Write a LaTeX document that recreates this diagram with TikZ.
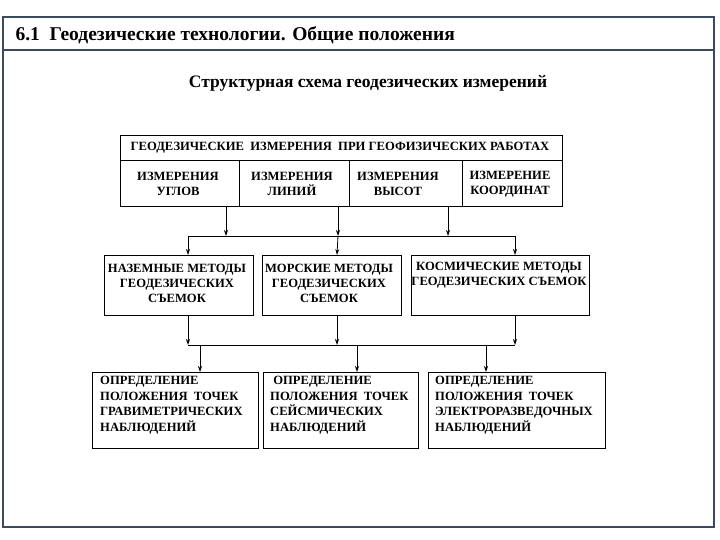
\documentclass[tikz,border=0pt]{standalone}
\usepackage{fontspec}
\setmainfont{Liberation Serif}
\usetikzlibrary{arrows.meta}
\definecolor{frame}{HTML}{3B4A5C}
\begin{document}
\begin{tikzpicture}[x=1pt,y=-1pt,
  box/.style={draw,line width=0.8pt},
  t/.style={font=\bfseries\fontsize{12.6}{15.5}\selectfont,align=left,inner sep=0pt},
  tc/.style={font=\bfseries\fontsize{12.6}{15}\selectfont,align=center,inner sep=0pt},
  arr/.style={line width=0.8pt,-{Stealth[length=6pt,width=4pt]}},
  ln/.style={line width=0.8pt}]
\useasboundingbox (0,0) rectangle (720,540);
\fill[white] (0,0) rectangle (720,540);
\draw[frame,line width=1.5pt] (3,17) rectangle (714,527);
\draw[frame,line width=1.5pt] (3,50) -- (714,50);
\node[anchor=west,font=\bfseries\fontsize{19.5}{22}\selectfont] (title) at (12,35) {6.1\ \ Геодезические технологии. Общие положения};
\node[font=\bfseries\fontsize{17.5}{20}\selectfont] (sub) at (368,83) {Структурная схема геодезических измерений};
% top box
\draw[box] (120,135) rectangle (562,206);
\draw[ln] (120,160) -- (562,160);
\draw[ln] (239,160) -- (239,206) (349,160) -- (349,206) (462,160) -- (462,206);
\node[tc] (top) at (340,148) {ГЕОДЕЗИЧЕСКИЕ \ ИЗМЕРЕНИЯ \ ПРИ ГЕОФИЗИЧЕСКИХ РАБОТАХ};
\node[tc] (u1) at (178,184) {ИЗМЕРЕНИЯ\\УГЛОВ};
\node[tc] (u2) at (292,184) {ИЗМЕРЕНИЯ\\ЛИНИЙ};
\node[tc] (u3) at (398,184) {ИЗМЕРЕНИЯ\\ВЫСОТ};
\node[tc] (u4) at (510,184) {ИЗМЕРЕНИЕ\\КООРДИНАТ};
\coordinate (a1) at (226,206); \coordinate (a2) at (338,206); \coordinate (a3) at (448,206);
\coordinate (b1) at (226,236); \coordinate (b2) at (338,236); \coordinate (b3) at (448,236);
\draw[arr] (a1) -- (b1); \draw[arr] (a2) -- (b2); \draw[arr] (a3) -- (b3);
\coordinate (hL) at (188,236); \coordinate (hR) at (515,236);
\draw[ln] (hL) -- (hR);
% middle boxes
\draw[box] (104,255) rectangle (253,315);
\draw[box] (262,255) rectangle (401,315);
\draw[box] (411,255) rectangle (589,315);
\draw[arr] (hL) -- (188,255);
\draw[arr] (b2) -- (337,255);
\draw[arr] (hR) -- (515,255);
\node[tc] (m1) at (177,283) {НАЗЕМНЫЕ МЕТОДЫ\\ГЕОДЕЗИЧЕСКИХ\\СЪЕМОК};
\node[tc] (m2) at (329,283) {МОРСКИЕ МЕТОДЫ\\ГЕОДЕЗИЧЕСКИХ\\СЪЕМОК};
\node[tc] (m3) at (499,275) {КОСМИЧЕСКИЕ МЕТОДЫ\\ГЕОДЕЗИЧЕСКИХ СЪЕМОК};
% lower connectors
\coordinate (c1) at (188,345); \coordinate (c2) at (337,345); \coordinate (c3) at (515,345);
\draw[arr] (188,315) -- (c1); \draw[arr] (337,315) -- (c2); \draw[arr] (515,315) -- (c3);
\draw[ln] (c1) -- (c3);
\draw[arr] (200,345) -- (200,372);
\draw[arr] (357,345) -- (357,372);
\draw[arr] (486,345) -- (486,372);
% bottom boxes
\draw[box] (92,372) rectangle (258,448);
\draw[box] (263,372) rectangle (418,448);
\draw[box] (428,372) rectangle (605,448);
\node[t,anchor=north west] (n1) at (100,376) {ОПРЕДЕЛЕНИЕ\\ПОЛОЖЕНИЯ \ ТОЧЕК\\ГРАВИМЕТРИЧЕСКИХ\\НАБЛЮДЕНИЙ};
\node[t,anchor=north west] (n2) at (270,376) {\ ОПРЕДЕЛЕНИЕ\\ПОЛОЖЕНИЯ \ ТОЧЕК\\СЕЙСМИЧЕСКИХ\\НАБЛЮДЕНИЙ};
\node[t,anchor=north west] (n3) at (435,376) {ОПРЕДЕЛЕНИЕ\\ПОЛОЖЕНИЯ \ ТОЧЕК\\ЭЛЕКТРОРАЗВЕДОЧНЫХ\\НАБЛЮДЕНИЙ};
\end{tikzpicture}
\end{document}
